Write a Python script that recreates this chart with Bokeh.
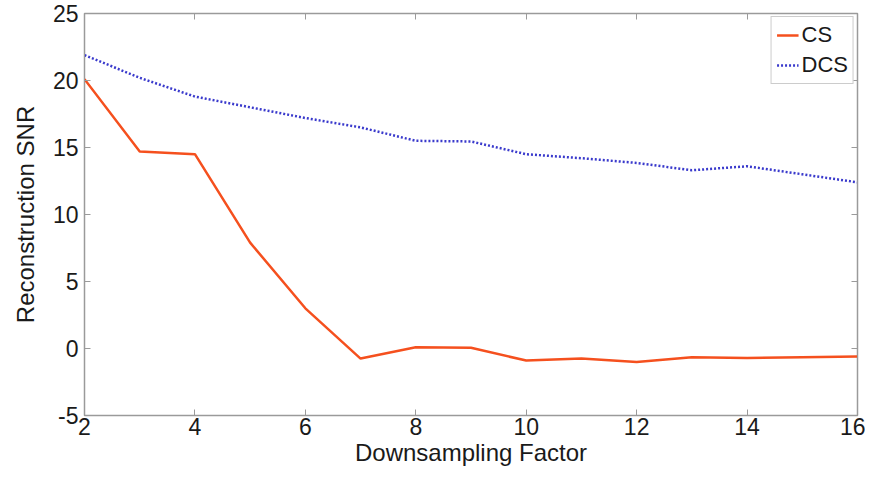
from bokeh.plotting import figure
from bokeh.models import LinearAxis, FixedTicker, Legend, LegendItem, Range1d
from bokeh.embed import file_html
from bokeh.resources import INLINE

factor = [2, 3, 4, 5, 6, 7, 8, 9, 10, 11, 12, 13, 14, 15, 16]
cs = [20.1, 14.7, 14.5, 7.9, 3.0, -0.75, 0.1, 0.05, -0.9, -0.75, -1.0, -0.65, -0.7, -0.65, -0.6]
dcs = [21.9, 20.2, 18.8, 18.0, 17.2, 16.5, 15.5, 15.45, 14.5, 14.2, 13.85, 13.3, 13.6, 13.0, 12.4]
x_ticks = [2, 4, 6, 8, 10, 12, 14, 16]
y_ticks = [-5, 0, 5, 10, 15, 20, 25]
y_tick_labels = {t: str(t) for t in y_ticks}

FONT = "Liberation Sans"
AX = "#9a9a9a"
TXT = "#1a1a1a"

p = figure(width=865, height=478, output_backend="svg", toolbar_location=None,
           x_range=Range1d(2, 16), y_range=Range1d(-5, 25),
           min_border_left=84, min_border_right=8, min_border_top=13, min_border_bottom=63,
           x_axis_label="Downsampling Factor", y_axis_label="Reconstruction SNR")
p.xgrid.visible = False
p.ygrid.visible = False
p.outline_line_color = AX
p.outline_line_width = 1.5

for ax, ticks in ((p.xaxis[0], x_ticks), (p.yaxis[0], y_ticks)):
    ax.ticker = FixedTicker(ticks=ticks)
    ax.minor_tick_line_color = None
    ax.major_tick_in = 6
    ax.major_tick_out = 0
    ax.axis_line_color = AX
    ax.major_tick_line_color = AX
    ax.major_label_text_font = FONT
    ax.major_label_text_font_size = "23px"
    ax.major_label_text_color = TXT
    ax.axis_label_text_font = FONT
    ax.axis_label_text_font_style = "normal"
    ax.axis_label_text_color = TXT
    ax.axis_label_text_font_size = "24px"
p.yaxis[0].major_label_overrides = y_tick_labels
p.xaxis[0].major_label_standoff = 2
p.xaxis[0].axis_label_standoff = 1
p.yaxis[0].major_label_standoff = 6
p.yaxis[0].axis_label_standoff = 11

for loc, ticks in (("above", x_ticks), ("right", y_ticks)):
    a = LinearAxis(ticker=FixedTicker(ticks=ticks))
    a.major_label_text_color = None
    a.major_label_text_font_size = "1px"
    a.major_label_standoff = 0
    a.minor_tick_line_color = None
    a.major_tick_in = 6
    a.major_tick_out = 0
    a.axis_line_color = AX
    a.major_tick_line_color = AX
    p.add_layout(a, loc)

r1 = p.line(factor, cs, line_color="#f5501e", line_width=2.5)
r2 = p.line(factor, dcs, line_color="#3a3acc", line_width=2.5, line_dash="2 2")

legend = Legend(items=[LegendItem(label="CS", renderers=[r1]),
                       LegendItem(label="DCS", renderers=[r2])],
                location="top_right")
legend.label_text_font = FONT
legend.label_text_font_size = "22px"
legend.label_text_color = TXT
legend.border_line_color = AX
legend.border_line_width = 1.5
legend.glyph_width = 22
legend.glyph_height = 24
legend.label_standoff = 3
legend.label_height = 24
legend.spacing = 4
legend.padding = 5
legend.margin = 3
legend.background_fill_alpha = 1
p.add_layout(legend)

open("out.html", "w").write(file_html(p, INLINE))
